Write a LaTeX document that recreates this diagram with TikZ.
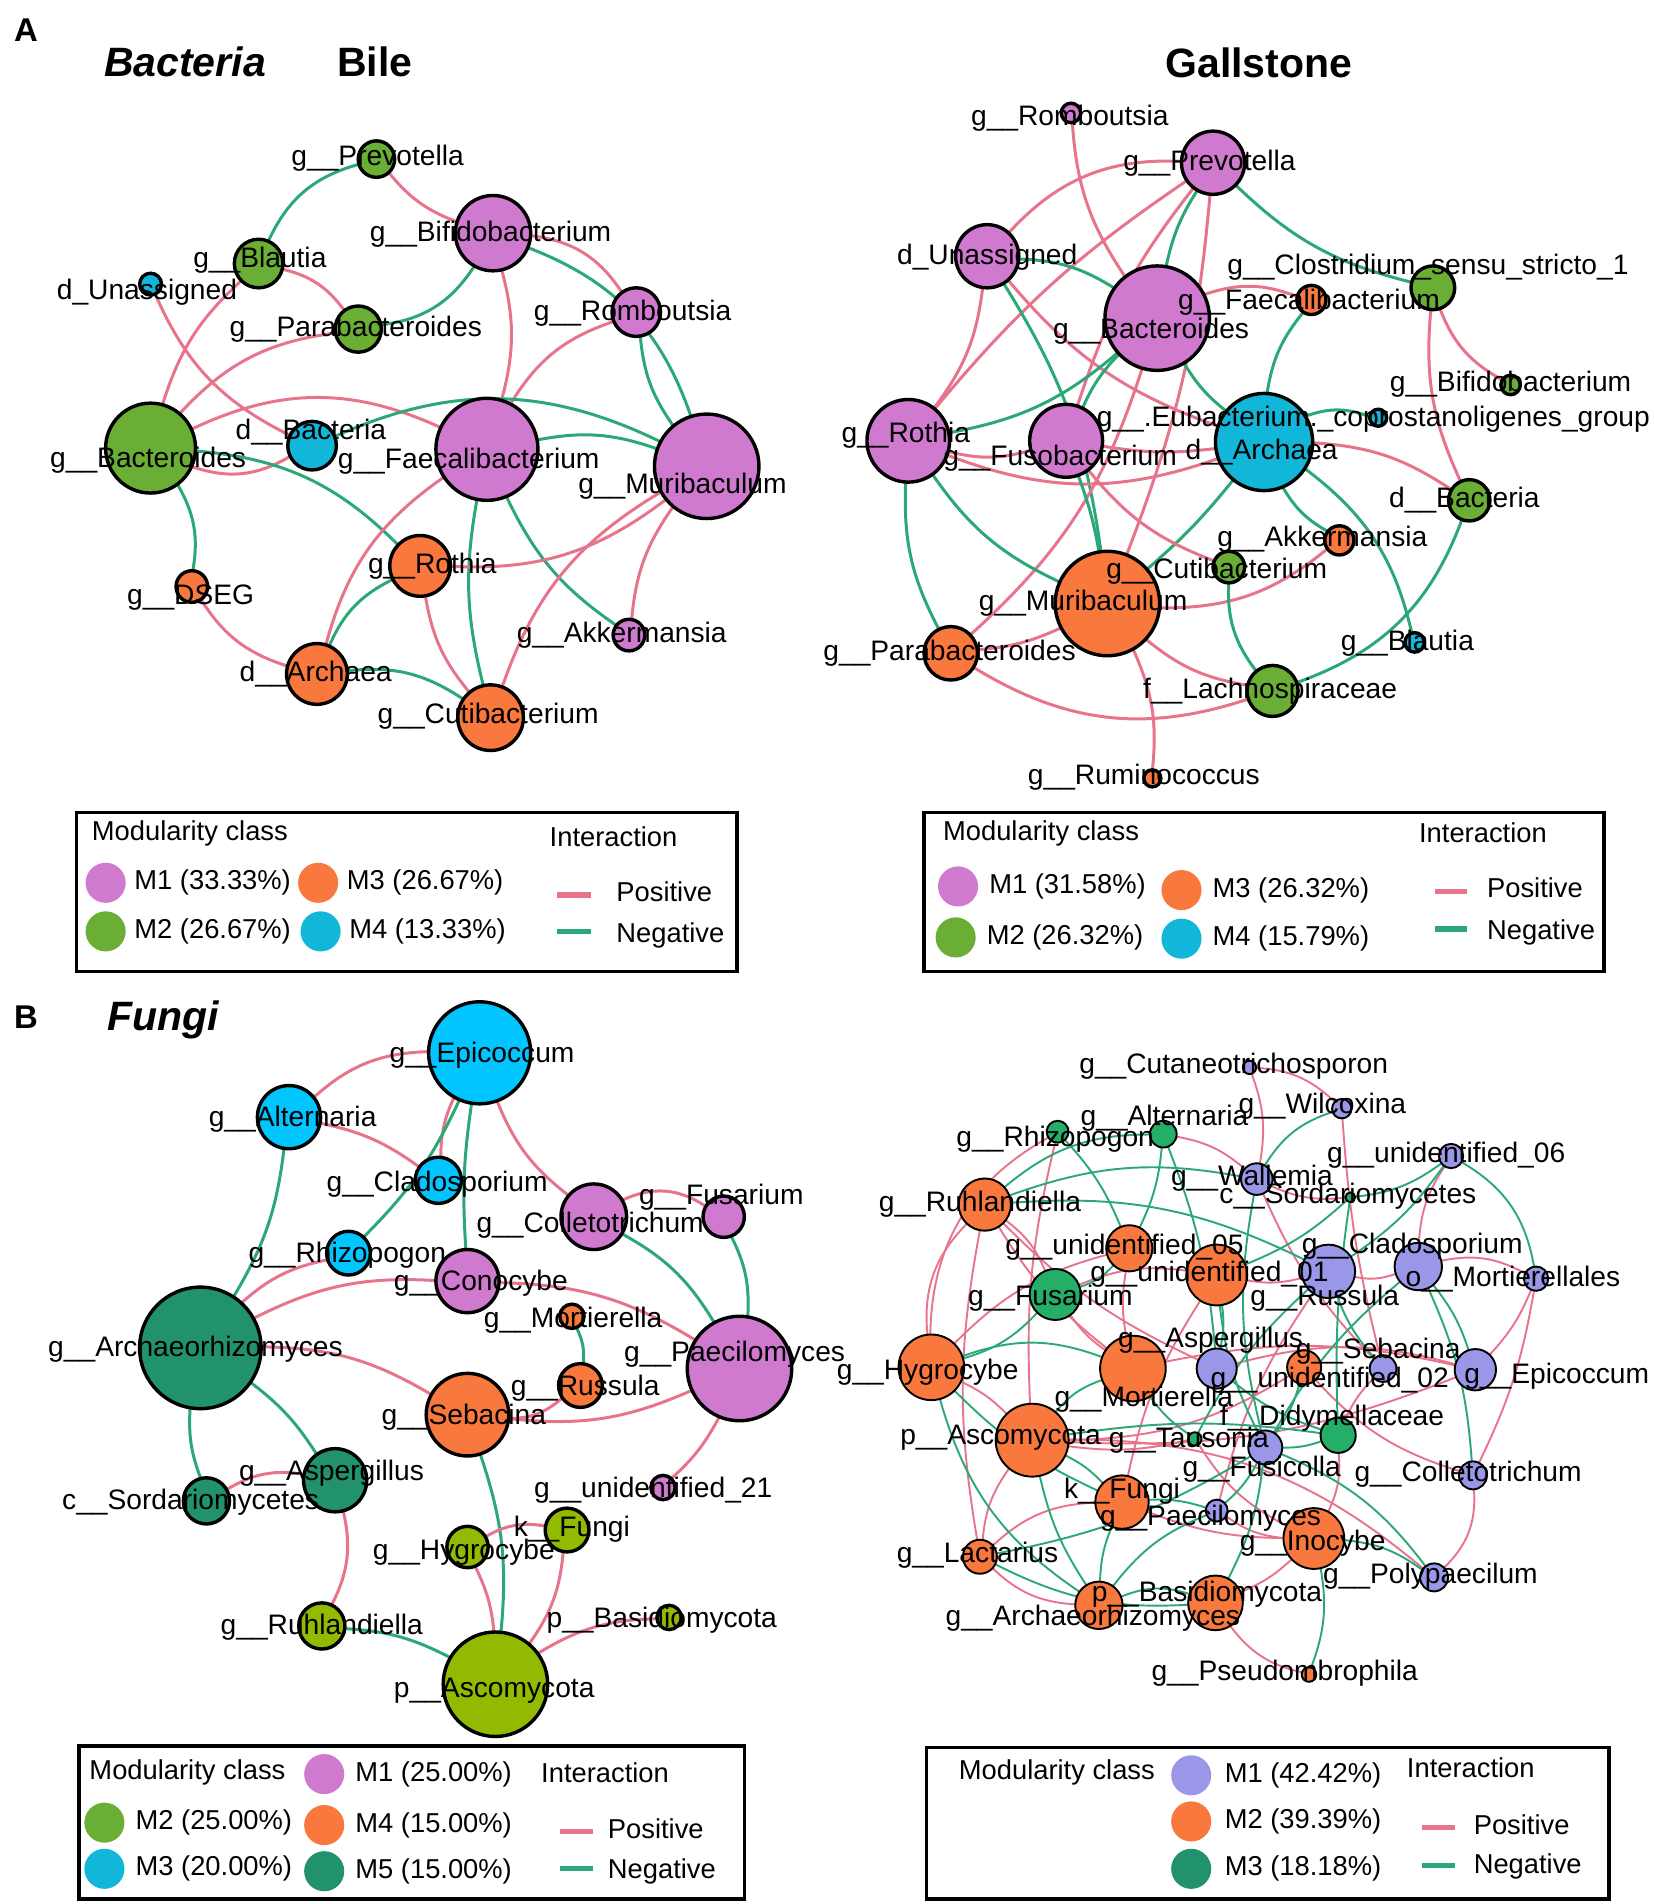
\documentclass[tikz,border=0pt]{standalone}
\usepackage{fontspec}
\setmainfont{Liberation Sans}
\pgfdeclarelayer{edges}
\pgfsetlayers{edges,main}
\definecolor{modvio}{RGB}{208,122,207}
\definecolor{modgrn}{RGB}{106,174,53}
\definecolor{modorg}{RGB}{248,120,62}
\definecolor{modcya}{RGB}{18,182,216}
\definecolor{skyblu}{RGB}{0,197,255}
\definecolor{modoli}{RGB}{146,186,0}
\definecolor{modtea}{RGB}{33,145,110}
\definecolor{modlav}{RGB}{154,151,232}
\definecolor{modjad}{RGB}{37,174,104}
\definecolor{poscol}{RGB}{232,116,140}
\definecolor{negcol}{RGB}{42,168,120}
\tikzset{
  nd/.style={circle, draw=black, line width=0.8pt, inner sep=0pt, outer sep=0pt},
  thinnd/.style={nd, line width=0.45pt},
  lbl/.style={inner sep=0pt, font=\fontsize{6.6}{7}\selectfont},
  poslink/.style={draw=poscol, line width=0.7pt},
  neglink/.style={draw=negcol, line width=0.7pt},
  ldot/.style={circle, inner sep=0pt, minimum size=0.33cm},
  ltxt/.style={inner sep=0pt, anchor=west, font=\fontsize{6.4}{7}\selectfont},
  lbox/.style={draw=black, line width=0.8pt},
  lline/.style={line width=1.2pt},
  ttl/.style={inner sep=0pt, anchor=west, font=\fontsize{9.6}{12}\selectfont\bfseries},
  tag/.style={inner sep=0pt, anchor=west, font=\fontsize{7.7}{9}\selectfont\bfseries},
}
\begin{document}
\begin{tikzpicture}[x=0.01cm, y=-0.01cm]
\useasboundingbox (0,0) rectangle (1362,1568);

% panel titles
\node[tag] (tagA) at (11,25) {A};
\node[tag] (tagB) at (11,838) {B};
\node[ttl] (tBac) at (85,51) {\itshape Bacteria};
\node[ttl] (tBile) at (277,51) {Bile};
\node[ttl] (tGall) at (959,52) {Gallstone};
\node[ttl] (tFun) at (88,840) {\itshape Fungi};

% bacteria, bile
\foreach \id/\x/\y/\rad/\col in {blPrev/310/131/15/modgrn, blBifi/406/192/31/modvio,
  blBlau/213/217/20/modgrn, blUnas/124/234/9/modcya, blPara/295/271/19/modgrn,
  blRomb/524/257/20/modvio, blBact/124/369/37/modgrn, blDBac/257/367/20/modcya,
  blFaec/401/370/42/modvio, blMuri/582/384/43/modvio, blRoth/346/466/25/modorg,
  blDSEG/158/483/13/modorg, blAkke/518/523/13/modvio, blArch/261/555/25/modorg,
  blCuti/404/591/27/modorg}
  \node[nd, fill=\col, minimum size=\rad*0.02cm] (\id) at (\x,\y) {};
\foreach \id/\x/\y/\txt in {blPrev/311/130/{g\_\_Prevotella}, blBifi/404/193/{g\_\_Bifidobacterium},
  blBlau/214/214/{g\_\_Blautia}, blUnas/121/241/{d\_Unassigned}, blPara/293/271/{g\_\_Parabacteroides},
  blRomb/521/258/{g\_\_Romboutsia}, blBact/122/379/{g\_\_Bacteroides}, blDBac/256/356/{d\_\_Bacteria},
  blFaec/386/380/{g\_\_Faecalibacterium}, blMuri/562/400/{g\_\_Muribaculum}, blRoth/356/466/{g\_\_Rothia},
  blDSEG/157/492/{g\_\_DSEG}, blAkke/512/523/{g\_\_Akkermansia}, blArch/260/555/{d\_\_Archaea},
  blCuti/402/590/{g\_\_Cutibacterium}}
  \node[lbl] (\id-t) at (\x,\y) {\txt};
\begin{pgfonlayer}{edges}
\foreach \a/\b/\s/\k in {blPrev/blBlau/neglink/-25, blPrev/blBifi/poslink/-15, blBlau/blPara/poslink/20,
  blBlau/blBact/poslink/-15, blBifi/blPara/neglink/25, blBifi/blRomb/poslink/25, blBifi/blMuri/neglink/25,
  blBifi/blFaec/poslink/15, blRomb/blFaec/poslink/-20, blRomb/blMuri/neglink/-15, blUnas/blDBac/poslink/-20,
  blBact/blPara/poslink/20, blBact/blFaec/poslink/25, blBact/blDBac/poslink/-25, blBact/blRoth/neglink/20,
  blDBac/blMuri/neglink/25, blFaec/blMuri/neglink/15, blBact/blDSEG/neglink/20, blDSEG/blArch/poslink/-20,
  blFaec/blArch/poslink/-20, blFaec/blCuti/neglink/-12, blFaec/blAkke/neglink/-15, blRoth/blMuri/poslink/-20,
  blArch/blRoth/neglink/20, blRoth/blCuti/poslink/-15, blArch/blCuti/neglink/20, blMuri/blCuti/poslink/-20,
  blMuri/blAkke/poslink/-15}
  \draw[\s] (\a) to[bend left=\k] (\b);
\end{pgfonlayer}

% bacteria, gallstone
\foreach \id/\x/\y/\rad/\col in {gsRomb/882/93/8/modvio, gsPrev/999/134/26/modvio,
  gsUnas/813/211/26/modvio, gsBact/953/262/43/modvio, gsClos/1180/237/18/modgrn,
  gsFaec/1080/247/12/modorg, gsBifi/1244/317/8/modgrn, gsEub/1135/344/7/modcya,
  gsRoth/748/363/34/modvio, gsFuso/878/363/30/modvio, gsArch/1041/364/40/modcya,
  gsDBac/1210/412/17/modgrn, gsAkke/1103/445/12/modorg, gsCuti/1012/467/13/modgrn,
  gsMuri/912/497/43/modorg, gsPara/783/538/22/modorg, gsBlau/1165/529/8/modcya,
  gsLach/1048/569/21/modgrn, gsRumi/949/641/7/modorg}
  \node[nd, fill=\col, minimum size=\rad*0.02cm] (\id) at (\x,\y) {};
\foreach \id/\x/\y/\txt in {gsRomb/881/97/{g\_\_Romboutsia}, gsPrev/996/134/{g\_\_Prevotella},
  gsUnas/813/212/{d\_Unassigned}, gsBact/948/273/{g\_\_Bacteroides},
  gsClos/1176/220/{g\_\_Clostridium\_sensu\_stricto\_1}, gsFaec/1078/249/{g\_\_Faecalibacterium},
  gsBifi/1244/316/{g\_\_Bifidobacterium}, gsEub/1131/345/{g\_\_.Eubacterium.\_coprostanoligenes\_group},
  gsRoth/746/358/{g\_\_Rothia}, gsFuso/873/377/{g\_\_Fusobacterium}, gsArch/1039/372/{d\_\_Archaea},
  gsDBac/1206/412/{d\_\_Bacteria}, gsAkke/1089/444/{g\_\_Akkermansia}, gsCuti/1002/470/{g\_\_Cutibacterium},
  gsMuri/892/497/{g\_\_Muribaculum}, gsPara/782/538/{g\_\_Parabacteroides}, gsBlau/1159/530/{g\_\_Blautia},
  gsLach/1046/569/{f\_\_Lachnospiraceae}, gsRumi/942/640/{g\_\_Ruminococcus}}
  \node[lbl] (\id-t) at (\x,\y) {\txt};
\begin{pgfonlayer}{edges}
\foreach \a/\b/\s/\k in {gsRomb/gsBact/poslink/-15, gsPrev/gsUnas/poslink/-25, gsPrev/gsBact/neglink/-10,
  gsPrev/gsFuso/poslink/-10, gsPrev/gsMuri/poslink/8, gsPrev/gsRoth/poslink/-8, gsPrev/gsClos/neglink/-15,
  gsUnas/gsRoth/poslink/15, gsUnas/gsBact/neglink/15, gsUnas/gsMuri/neglink/12, gsUnas/gsArch/poslink/-15,
  gsBact/gsFaec/poslink/20, gsBact/gsArch/neglink/-10, gsBact/gsFuso/neglink/-10, gsBact/gsRoth/neglink/15,
  gsBact/gsPara/poslink/15, gsFaec/gsArch/neglink/-15, gsClos/gsBifi/poslink/-20, gsClos/gsDBac/poslink/-15,
  gsArch/gsEub/neglink/20, gsArch/gsDBac/poslink/15, gsArch/gsAkke/neglink/-15, gsArch/gsBlau/neglink/20,
  gsArch/gsMuri/neglink/5, gsRoth/gsFuso/poslink/-15, gsRoth/gsArch/poslink/-20, gsFuso/gsArch/poslink/-8,
  gsRoth/gsMuri/neglink/-15, gsRoth/gsPara/neglink/-15, gsFuso/gsCuti/poslink/-15, gsFuso/gsMuri/neglink/5,
  gsMuri/gsAkke/poslink/-20, gsPara/gsMuri/poslink/-10, gsPara/gsLach/poslink/-25, gsMuri/gsLach/poslink/-15,
  gsMuri/gsRumi/poslink/15, gsCuti/gsLach/neglink/-20, gsLach/gsDBac/neglink/-25}
  \draw[\s] (\a) to[bend left=\k] (\b);
\end{pgfonlayer}

% fungi, bile
\foreach \id/\x/\y/\rad/\col in {fbEpic/395/867/42/skyblu, fbAlte/238/920/26/skyblu,
  fbClad/361/972/19/skyblu, fbFusa/596/1002/17/modvio, fbColl/489/1002/27/modvio,
  fbRhiz/287/1032/18/skyblu, fbCono/385/1055/26/modvio, fbMort/471/1084/10/modorg,
  fbArch/165/1110/50/modtea, fbPaec/609/1127/43/modvio, fbRuss/478/1141/18/modorg,
  fbSeba/385/1165/34/modorg, fbAspe/276/1219/26/modtea, fbSord/170/1236/19/modtea,
  fbUn21/546/1225/10/modvio, fbFung/467/1260/18/modoli, fbHygr/385/1274/17/modoli,
  fbRuhl/265/1339/19/modoli, fbBasi/551/1332/10/modoli, fbAsco/408/1387/43/modoli}
  \node[nd, fill=\col, minimum size=\rad*0.02cm] (\id) at (\x,\y) {};
\foreach \id/\x/\y/\txt in {fbEpic/397/869/{g\_\_Epicoccum}, fbAlte/241/922/{g\_\_Alternaria},
  fbClad/360/975/{g\_\_Cladosporium}, fbFusa/594/986/{g\_\_Fusarium}, fbColl/486/1009/{g\_\_Colletotrichum},
  fbRhiz/286/1034/{g\_\_Rhizopogon}, fbCono/396/1057/{g\_\_Conocybe}, fbMort/472/1087/{g\_\_Mortierella},
  fbArch/161/1111/{g\_\_Archaeorhizomyces}, fbPaec/605/1115/{g\_\_Paecilomyces}, fbRuss/482/1143/{g\_\_Russula},
  fbSeba/382/1167/{g\_\_Sebacina}, fbAspe/273/1213/{g\_\_Aspergillus}, fbSord/157/1237/{c\_\_Sordariomycetes},
  fbUn21/538/1227/{g\_\_unidentified\_21}, fbFung/471/1259/{k\_\_Fungi}, fbHygr/382/1278/{g\_\_Hygrocybe},
  fbRuhl/265/1340/{g\_\_Ruhlandiella}, fbBasi/545/1334/{p\_\_Basidiomycota}, fbAsco/407/1392/{p\_\_Ascomycota}}
  \node[lbl] (\id-t) at (\x,\y) {\txt};
\begin{pgfonlayer}{edges}
\foreach \a/\b/\s/\k in {fbEpic/fbAlte/poslink/-20, fbEpic/fbClad/poslink/-12, fbEpic/fbRhiz/neglink/10,
  fbEpic/fbCono/neglink/-6, fbEpic/fbColl/poslink/-15, fbAlte/fbClad/poslink/12, fbAlte/fbArch/neglink/12,
  fbRhiz/fbArch/poslink/-15, fbArch/fbCono/poslink/15, fbCono/fbPaec/poslink/15, fbColl/fbFusa/poslink/30,
  fbColl/fbPaec/neglink/15, fbFusa/fbPaec/neglink/15, fbMort/fbRuss/neglink/15, fbRuss/fbSeba/poslink/20,
  fbSeba/fbPaec/poslink/-15, fbArch/fbSeba/poslink/15, fbArch/fbAspe/neglink/10, fbArch/fbSord/neglink/-12,
  fbSord/fbAspe/poslink/20, fbAspe/fbRuhl/poslink/20, fbSeba/fbAsco/neglink/12, fbPaec/fbUn21/poslink/10,
  fbHygr/fbFung/poslink/20, fbHygr/fbAsco/poslink/10, fbFung/fbAsco/poslink/15, fbAsco/fbBasi/poslink/15,
  fbRuhl/fbAsco/neglink/12}
  \draw[\s] (\a) to[bend left=\k] (\b);
\end{pgfonlayer}

% fungi, gallstone
\foreach \id/\x/\y/\rad/\col in {fgCuta/1029/879/5.5/modlav, fgAlte/958/934/11/modjad,
  fgWilc/1105/913/8/modlav, fgRhiz/871/932/9/modjad, fgU06/1195/952/10/modlav,
  fgWall/1035/971/13/modlav, fgSord/1112/986/4/modjad, fgRuhl/811/992/21.5/modorg,
  fgU05/930/1028/19/modorg, fgClad/1168/1043/19.5/modlav, fgU01/1002/1050/25/modorg,
  fgMrtl/1265/1053/10/modlav, fgFusa/869/1066/21/modjad, fgRuss/1094/1047/22/modlav,
  fgHygr/767/1126/27/modorg, fgMort/933/1127/27/modorg, fgAspe/1002/1127/16.5/modlav,
  fgU02/1074/1126/14/modorg, fgSeba/1139/1127/11/modlav, fgEpic/1215/1128/17/modlav,
  fgDidy/1102/1182/14.5/modjad, fgAsco/850/1186/30/modorg, fgTaus/984/1185/5.5/modjad,
  fgFusi/1042/1192/14/modlav, fgColl/1213/1215/11.5/modlav, fgFung/924/1237/22/modorg,
  fgPaec/1002/1244/9/modlav, fgInoc/1082/1267/25/modorg, fgLact/807/1282/14/modorg,
  fgPoly/1181/1299/11.5/modlav, fgBasi/1001/1320/22.5/modorg, fgArch/905/1322/19.5/modorg,
  fgPseu/1078/1379/6/modorg}
  \node[thinnd, fill=\col, minimum size=\rad*0.02cm] (\id) at (\x,\y) {};
\foreach \id/\x/\y/\txt in {fgCuta/1016/878/{g\_\_Cutaneotrichosporon}, fgAlte/959/921/{g\_\_Alternaria},
  fgWilc/1089/911/{g\_\_Wilcoxina}, fgRhiz/869/938/{g\_\_Rhizopogon}, fgU06/1191/951/{g\_\_unidentified\_06},
  fgWall/1031/970/{g\_\_Wallemia}, fgSord/1110/985/{c\_\_Sordariomycetes}, fgRuhl/807/992/{g\_\_Ruhlandiella},
  fgU05/926/1027/{g\_\_unidentified\_05}, fgClad/1163/1026/{g\_\_Cladosporium},
  fgU01/996/1049/{g\_\_unidentified\_01}, fgMrtl/1246/1053/{o\_\_Mortierellales},
  fgFusa/865/1069/{g\_\_Fusarium}, fgRuss/1091/1069/{g\_\_Russula}, fgAspe/997/1104/{g\_\_Aspergillus},
  fgHygr/764/1130/{g\_\_Hygrocybe}, fgSeba/1135/1113/{g\_\_Sebacina}, fgEpic/1282/1133/{g\_\_Epicoccum},
  fgU02/1095/1137/{g\_\_unidentified\_02}, fgMort/942/1152/{g\_\_Mortierella},
  fgDidy/1097/1168/{f\_\_Didymellaceae}, fgAsco/824/1184/{p\_\_Ascomycota}, fgTaus/979/1186/{g\_\_Tausonia},
  fgFusi/1039/1210/{g\_\_Fusicolla}, fgColl/1209/1214/{g\_\_Colletotrichum}, fgFung/924/1228/{k\_\_Fungi},
  fgPaec/997/1250/{g\_\_Paecilomyces}, fgInoc/1081/1271/{g\_\_Inocybe}, fgLact/805/1281/{g\_\_Lactarius},
  fgPoly/1178/1298/{g\_\_Polypaecilum}, fgBasi/994/1313/{p\_\_Basidiomycota},
  fgArch/900/1333/{g\_\_Archaeorhizomyces}, fgPseu/1058/1378/{g\_\_Pseudombrophila}}
  \node[lbl] (\id-t) at (\x,\y) {\txt};
\begin{pgfonlayer}{edges}
\foreach \a/\b/\s/\k in {fgRuhl/fgHygr/poslink/-25, fgRhiz/fgHygr/poslink/-30, fgRhiz/fgAsco/poslink/-8,
  fgAlte/fgWall/poslink/15, fgCuta/fgWilc/poslink/20, fgCuta/fgWall/poslink/15, fgWilc/fgSeba/poslink/-5,
  fgU06/fgClad/poslink/-15, fgClad/fgMrtl/poslink/20, fgMrtl/fgEpic/poslink/10, fgMrtl/fgColl/poslink/8,
  fgClad/fgRuss/poslink/15, fgRuss/fgU01/poslink/12, fgColl/fgPoly/poslink/25, fgColl/fgU02/poslink/15,
  fgPoly/fgAsco/poslink/-20, fgInoc/fgPaec/poslink/15, fgInoc/fgFung/poslink/10, fgInoc/fgBasi/poslink/10,
  fgInoc/fgDidy/poslink/-15, fgBasi/fgPseu/poslink/-20, fgAsco/fgLact/poslink/-15, fgAsco/fgTaus/poslink/-10,
  fgAsco/fgEpic/poslink/-12, fgLact/fgFung/poslink/20, fgLact/fgArch/poslink/-20, fgLact/fgRuhl/poslink/10,
  fgMort/fgU05/poslink/10, fgMort/fgFusa/poslink/10, fgMort/fgEpic/poslink/12, fgAspe/fgEpic/poslink/15,
  fgFusa/fgU01/poslink/15, fgFusa/fgRuhl/poslink/-15, fgWall/fgSeba/poslink/-10, fgHygr/fgU05/poslink/15,
  fgRuhl/fgMort/poslink/-10, fgRuhl/fgAspe/poslink/-10, fgHygr/fgAsco/poslink/10, fgTaus/fgInoc/poslink/-15,
  fgU02/fgAsco/poslink/15, fgSord/fgWall/poslink/15, fgU01/fgFung/poslink/-10, fgRuss/fgPaec/poslink/-10,
  fgDidy/fgSeba/poslink/10,
  fgAlte/fgRuhl/neglink/-20, fgAlte/fgU05/neglink/10, fgAlte/fgAspe/neglink/8, fgRuhl/fgWall/neglink/15,
  fgRuhl/fgRuss/neglink/15, fgWilc/fgWall/neglink/-20, fgU06/fgSord/neglink/15, fgU06/fgMrtl/neglink/25,
  fgU06/fgRuss/neglink/10, fgWall/fgFusi/neglink/-12, fgSord/fgU01/neglink/10, fgSord/fgDidy/neglink/-5,
  fgClad/fgEpic/neglink/10, fgClad/fgFusi/neglink/-10, fgClad/fgColl/neglink/10, fgRuss/fgSeba/neglink/-10,
  fgU01/fgAspe/neglink/10, fgU01/fgFusi/neglink/-10, fgFusa/fgHygr/neglink/15, fgFusa/fgU05/neglink/-15,
  fgHygr/fgMort/neglink/20, fgHygr/fgArch/neglink/-20, fgHygr/fgFung/neglink/-10, fgAsco/fgMort/neglink/15,
  fgAsco/fgFung/neglink/10, fgAsco/fgArch/neglink/-10, fgAsco/fgDidy/neglink/8, fgFung/fgPaec/neglink/10,
  fgFung/fgArch/neglink/-10, fgLact/fgBasi/neglink/-15, fgLact/fgFusi/neglink/-10, fgArch/fgBasi/neglink/20,
  fgArch/fgPaec/neglink/15, fgBasi/fgFusi/neglink/-10, fgInoc/fgPoly/neglink/15, fgFusi/fgPoly/neglink/15,
  fgDidy/fgFusi/neglink/10, fgPaec/fgFusi/neglink/-10, fgPseu/fgInoc/neglink/-15, fgU02/fgFusi/neglink/10,
  fgMort/fgTaus/neglink/-10, fgAspe/fgDidy/neglink/-10, fgRuss/fgTaus/neglink/-10, fgRhiz/fgU05/neglink/10}
  \draw[\s, line width=0.45pt] (\a) to[bend left=\k] (\b);
\end{pgfonlayer}

% legends
\draw[lbox] (63,669) rectangle (607,800);
\node[ltxt] (lgA-h1) at (75,686) {Modularity class};
\node[ltxt] (lgA-h2) at (452,689) {Interaction};
\foreach \id/\x/\y/\col/\txt in {lgA1/87/727/modvio/{M1 (33.33\%)}, lgA3/262/727/modorg/{M3 (26.67\%)},
  lgA2/87/767/modgrn/{M2 (26.67\%)}, lgA4/264/767/modcya/{M4 (13.33\%)}}
  {\node[ldot, fill=\col] (\id) at (\x,\y) {};
   \node[ltxt] (\id-t) at (\x+23,\y) {\txt};}
\coordinate (lgAp1) at (459,737); \coordinate (lgAp2) at (487,737);
\coordinate (lgAn1) at (459,767); \coordinate (lgAn2) at (487,767);
\draw[lline, poscol] (lgAp1) -- (lgAp2);
\draw[lline, negcol] (lgAn1) -- (lgAn2);
\node[ltxt] (lgA-p) at (507,734) {Positive};
\node[ltxt] (lgA-n) at (507,770) {Negative};

\draw[lbox] (761,669) rectangle (1321,800);
\node[ltxt] (lgB-h1) at (776,686) {Modularity class};
\node[ltxt] (lgB-h2) at (1168,686) {Interaction};
\foreach \id/\x/\y/\col/\txt in {lgB1/789/730/modvio/{M1 (31.58\%)}, lgB3/973/733/modorg/{M3 (26.32\%)},
  lgB2/787/772/modgrn/{M2 (26.32\%)}, lgB4/973/773/modcya/{M4 (15.79\%)}}
  {\node[ldot, fill=\col] (\id) at (\x,\y) {};
   \node[ltxt] (\id-t) at (\x+25,\y) {\txt};}
\coordinate (lgBp1) at (1182,734); \coordinate (lgBp2) at (1208,734);
\coordinate (lgBn1) at (1182,765); \coordinate (lgBn2) at (1208,765);
\draw[lline, poscol] (lgBp1) -- (lgBp2);
\draw[lline, negcol] (lgBn1) -- (lgBn2);
\node[ltxt] (lgB-p) at (1224,731) {Positive};
\node[ltxt] (lgB-n) at (1224,768) {Negative};

\draw[lbox] (65,1438) rectangle (613,1564);
\node[ltxt] (lgC-h1) at (73,1460) {Modularity class};
\node[ltxt] (lgC-h2) at (445,1460) {Interaction};
\foreach \id/\x/\y/\col/\txt in {lgC1/267/1461/modvio/{M1 (25.00\%)}, lgC2/86/1501/modgrn/{M2 (25.00\%)},
  lgC4/267/1503/modorg/{M4 (15.00\%)}, lgC3/86/1539/modcya/{M3 (20.00\%)}, lgC5/267/1541/modtea/{M5 (15.00\%)}}
  {\node[ldot, fill=\col] (\id) at (\x,\y) {};
   \node[ltxt] (\id-t) at (\x+25,\y) {\txt};}
\coordinate (lgCp1) at (461,1508); \coordinate (lgCp2) at (488,1508);
\coordinate (lgCn1) at (461,1539); \coordinate (lgCn2) at (488,1539);
\draw[lline, poscol] (lgCp1) -- (lgCp2);
\draw[lline, negcol] (lgCn1) -- (lgCn2);
\node[ltxt] (lgC-p) at (500,1506) {Positive};
\node[ltxt] (lgC-n) at (500,1541) {Negative};

\draw[lbox] (763,1439) rectangle (1325,1564);
\node[ltxt] (lgD-h1) at (789,1460) {Modularity class};
\node[ltxt] (lgD-h2) at (1158,1456) {Interaction};
\foreach \id/\x/\y/\col/\txt in {lgD1/981/1462/modlav/{M1 (42.42\%)}, lgD2/981/1500/modorg/{M2 (39.39\%)},
  lgD3/981/1539/modtea/{M3 (18.18\%)}}
  {\node[ldot, fill=\col] (\id) at (\x,\y) {};
   \node[ltxt] (\id-t) at (\x+27,\y) {\txt};}
\coordinate (lgDp1) at (1171,1505); \coordinate (lgDp2) at (1198,1505);
\coordinate (lgDn1) at (1171,1536); \coordinate (lgDn2) at (1198,1536);
\draw[lline, poscol] (lgDp1) -- (lgDp2);
\draw[lline, negcol] (lgDn1) -- (lgDn2);
\node[ltxt] (lgD-p) at (1213,1503) {Positive};
\node[ltxt] (lgD-n) at (1213,1537) {Negative};
\end{tikzpicture}
\end{document}
